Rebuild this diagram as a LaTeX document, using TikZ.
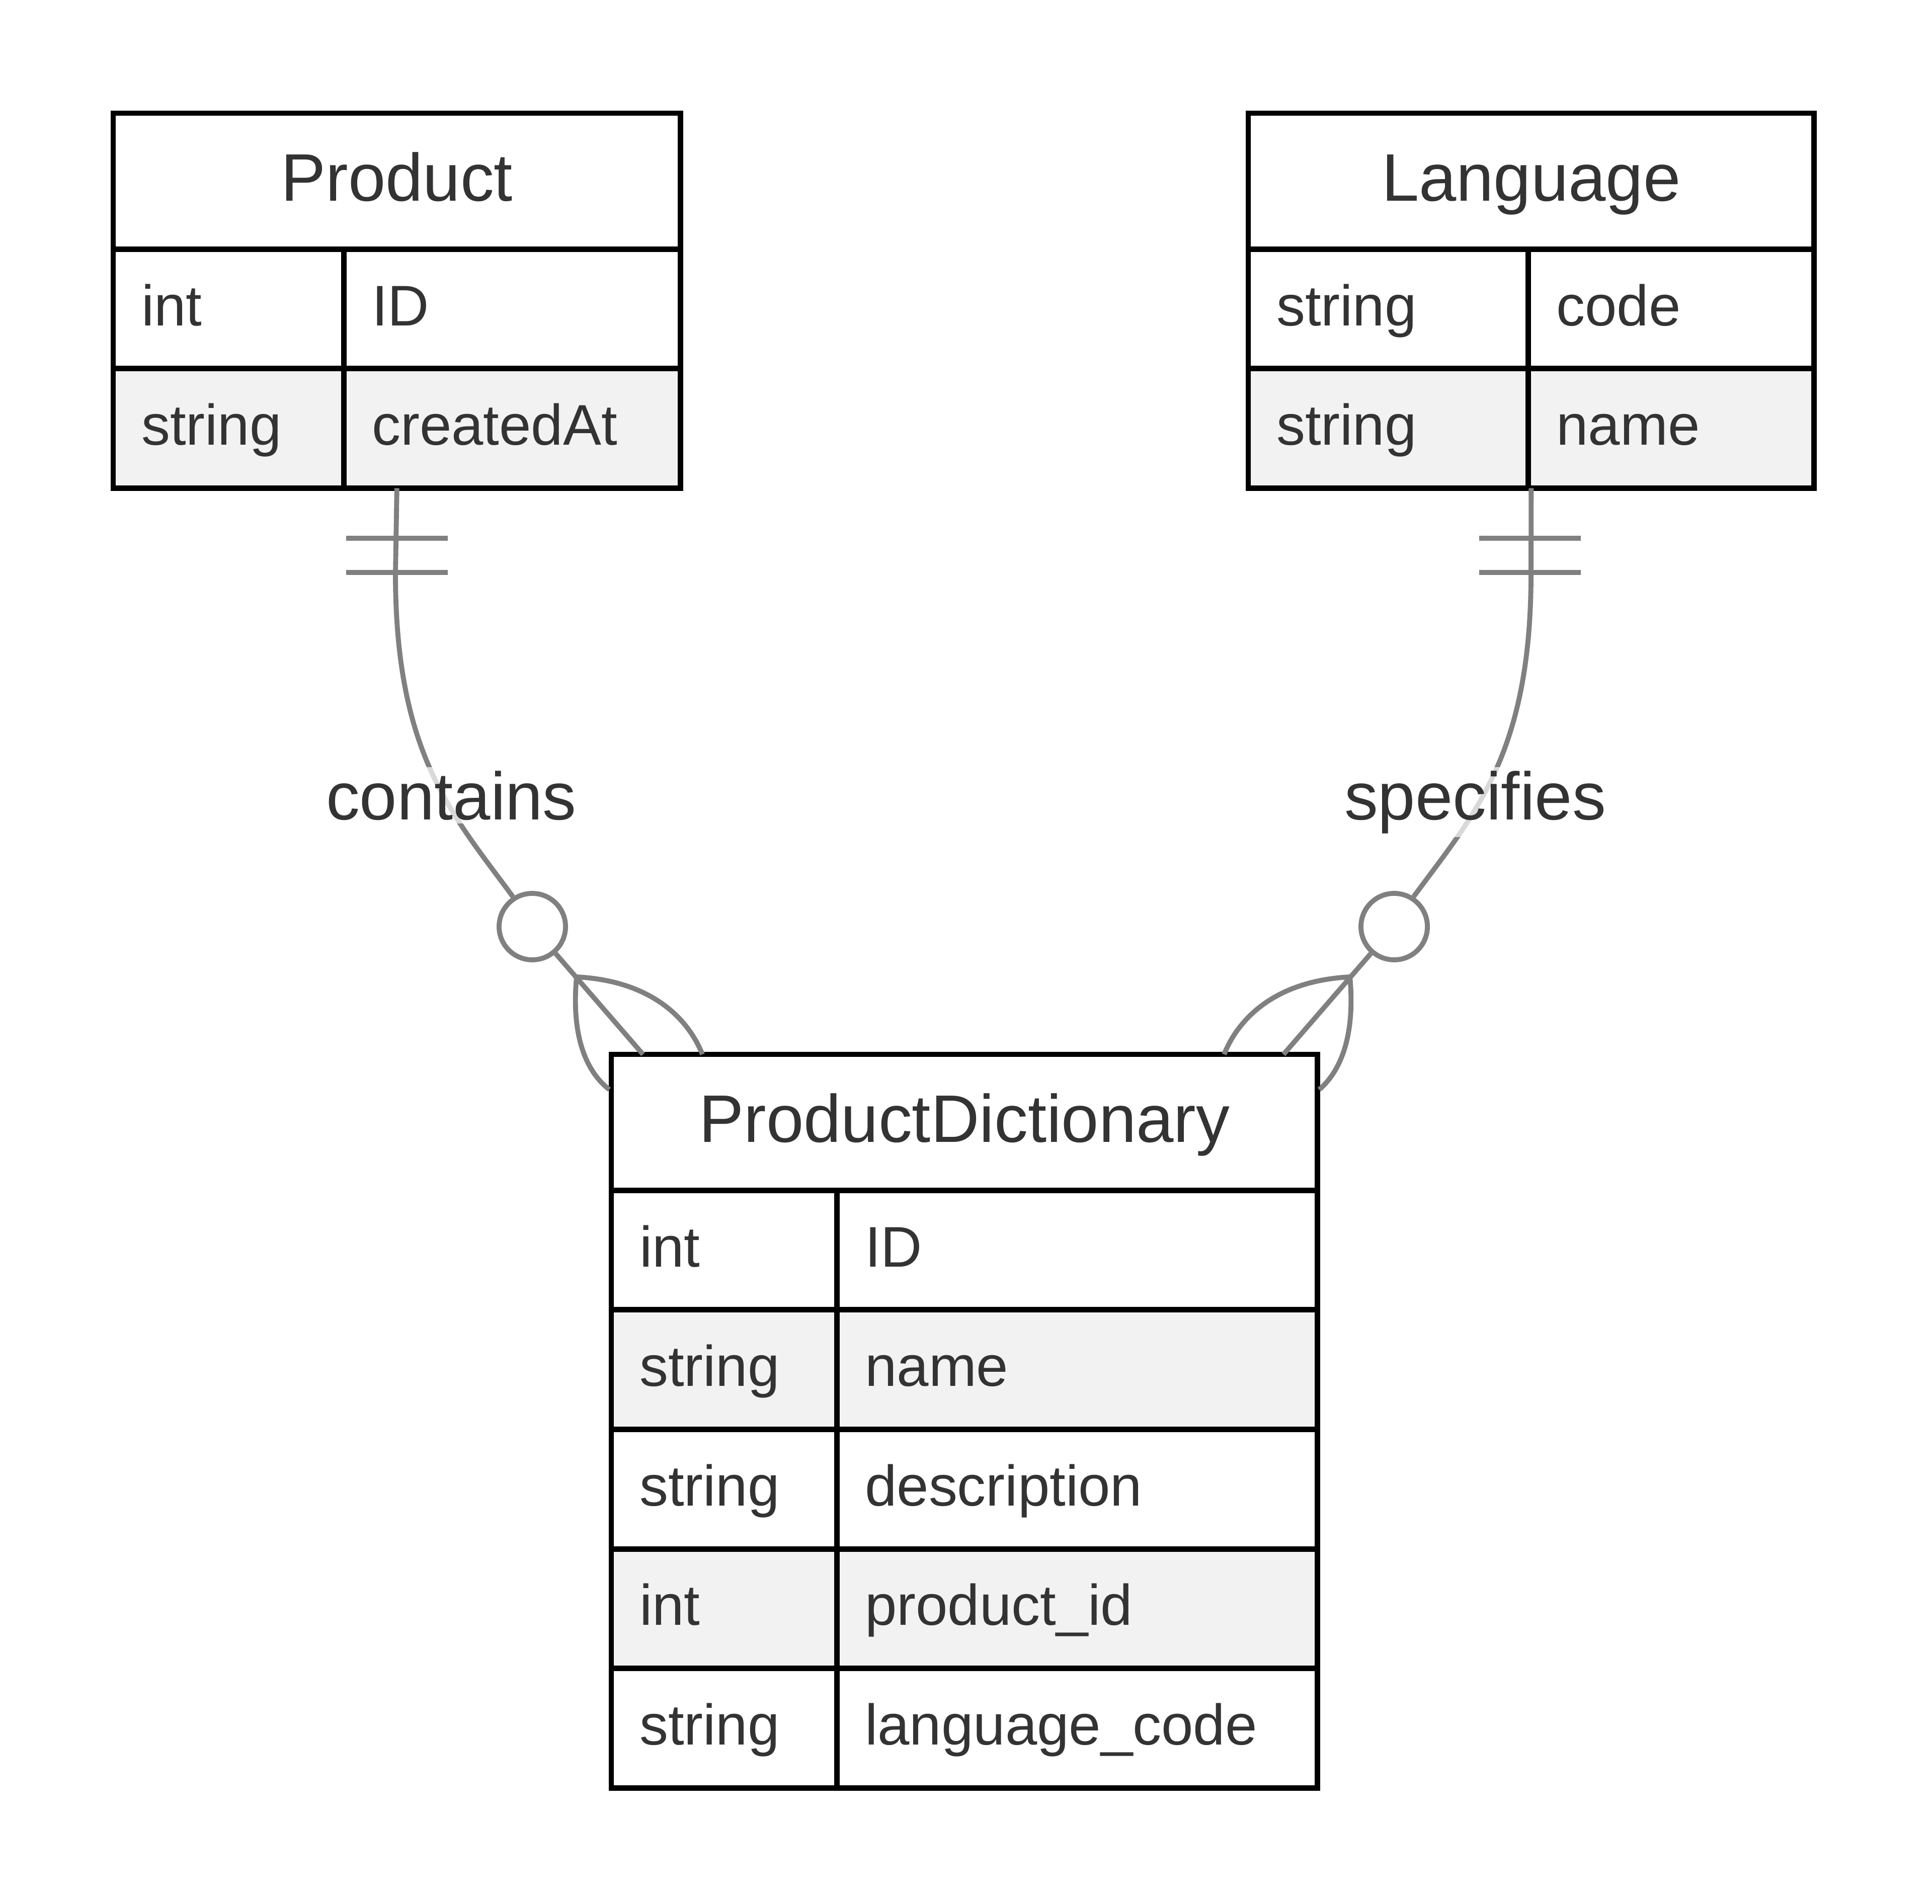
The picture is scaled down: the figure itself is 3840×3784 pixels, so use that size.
\documentclass[tikz,border=0pt]{standalone}
\usepackage{fontspec}
\setmainfont{Liberation Sans}
\usetikzlibrary{positioning}
\definecolor{ink}{HTML}{333333}
\definecolor{relgray}{HTML}{808080}
\definecolor{rowgray}{HTML}{F2F2F2}

\begin{document}
\begin{tikzpicture}[x=0.01cm, y=-0.01cm,
    head/.style={draw, line width=3.1pt, fill=white, minimum height=2.70cm, inner sep=0pt, outer sep=0pt,
        text height=1.05cm, text depth=0.27cm, anchor=north west, text=ink, font=\fontsize{38}{45}\selectfont},
    cell/.style={draw, line width=3.1pt, minimum height=2.375cm, inner xsep=0.56cm, inner ysep=0pt, outer sep=0pt,
        text width=#1, text height=0.92cm, text depth=0.26cm, align=left, anchor=north west, text=ink,
        font=\fontsize{32.4}{39}\selectfont},
    rowA/.style={fill=white}, rowB/.style={fill=rowgray},
    rel/.style={draw=relgray, line width=2.8pt},
    zeroend/.style={circle, draw=relgray, line width=2.8pt, fill=white, minimum size=1.32cm, inner sep=0pt},
    rellabel/.style={text=ink, font=\fontsize{38}{45}\selectfont, fill=white, fill opacity=0.7, text opacity=1,
        inner sep=2pt, anchor=base}]
    \useasboundingbox (0,0) rectangle (3840,3784);

    \node[head, minimum width=11.27cm] (prod) at (225,225) {Product};
    \node[cell=3.46cm, rowA] (prod-t1) at (prod.south west) {int};
    \node[cell=5.57cm, rowA] (prod-n1) at (prod-t1.north east) {ID};
    \node[cell=3.46cm, rowB] (prod-t2) at (prod-t1.south west) {string};
    \node[cell=5.57cm, rowB] (prod-n2) at (prod-t2.north east) {createdAt};

    \node[head, minimum width=11.24cm] (lang) at (2481,225) {Language};
    \node[cell=4.44cm, rowA] (lang-t1) at (lang.south west) {string};
    \node[cell=4.56cm, rowA] (lang-n1) at (lang-t1.north east) {code};
    \node[cell=4.44cm, rowB] (lang-t2) at (lang-t1.south west) {string};
    \node[cell=4.56cm, rowB] (lang-n2) at (lang-t2.north east) {name};

    \node[head, minimum width=14.03cm] (dict) at (1215,2096) {ProductDictionary};
    \node[cell=3.36cm, rowA] (dict-t1) at (dict.south west) {int};
    \node[cell=8.43cm, rowA] (dict-n1) at (dict-t1.north east) {ID};
    \node[cell=3.36cm, rowB] (dict-t2) at (dict-t1.south west) {string};
    \node[cell=8.43cm, rowB] (dict-n2) at (dict-t2.north east) {name};
    \node[cell=3.36cm, rowA] (dict-t3) at (dict-t2.south west) {string};
    \node[cell=8.43cm, rowA] (dict-n3) at (dict-t3.north east) {description};
    \node[cell=3.36cm, rowB] (dict-t4) at (dict-t3.south west) {int};
    \node[cell=8.43cm, rowB] (dict-n4) at (dict-t4.north east) {product\_id};
    \node[cell=3.36cm, rowA] (dict-t5) at (dict-t4.south west) {string};
    \node[cell=8.43cm, rowA] (dict-n5) at (dict-t5.north east) {language\_code};

    % Product ||--o{ ProductDictionary
    \node[zeroend] (prod-zero) at (1058,1842) {};
    \coordinate (prod-fork) at (1146,1942);
    \draw[rel] (prod.center |- prod-n2.south) -- (786,1140) .. controls (786,1500) and (900,1620) .. (prod-zero.123);
    \draw[rel] (688,1070) -- (890,1070) (688,1138) -- (890,1138);
    \draw[rel] (prod-zero) -- (1278,2096);
    \draw[rel] (prod-fork) .. controls (1300,1950) and (1370,2030) .. (1396,2096);
    \draw[rel] (prod-fork) .. controls (1135,2060) and (1165,2130) .. (1211,2166);
    \node[rellabel] (contains) at (897,1629) {contains};

    % Language ||--o{ ProductDictionary
    \node[zeroend] (lang-zero) at (2771,1842) {};
    \coordinate (lang-fork) at (2683,1942);
    \draw[rel] (lang.center |- lang-n2.south) -- (3043,1140) .. controls (3043,1500) and (2929,1620) .. (lang-zero.57);
    \draw[rel] (2940,1070) -- (3142,1070) (2940,1138) -- (3142,1138);
    \draw[rel] (lang-zero) -- (2551,2096);
    \draw[rel] (lang-fork) .. controls (2529,1950) and (2459,2030) .. (2433,2096);
    \draw[rel] (lang-fork) .. controls (2694,2060) and (2664,2130) .. (2622,2166);
    \node[rellabel] (specifies) at (2932,1629) {specifies};
\end{tikzpicture}
\end{document}
